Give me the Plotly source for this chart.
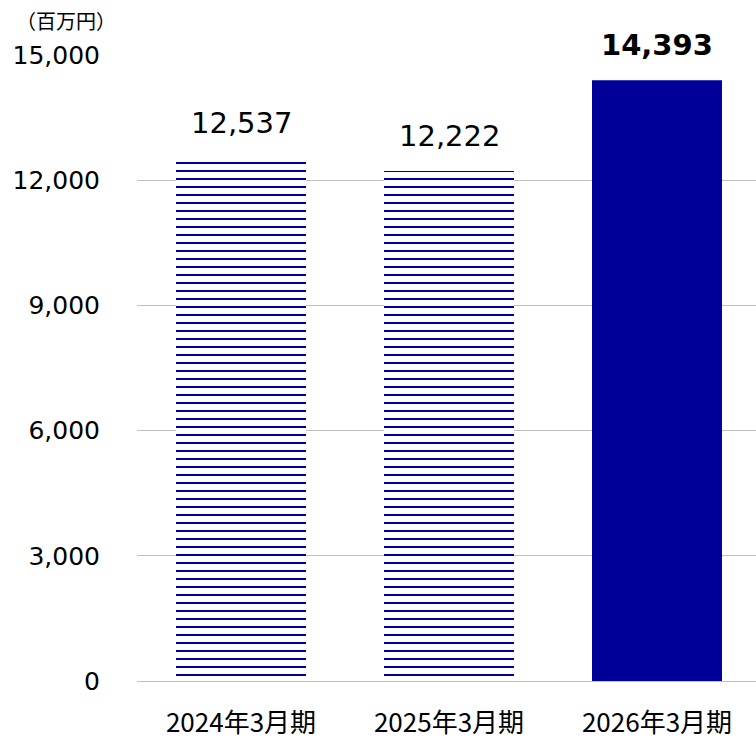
import plotly.graph_objects as go

categories = ["2024年3月期", "2025年3月期", "2026年3月期"]
values = [12537, 12222, 14393]
value_labels = ["12,537", "12,222", "<b>14,393</b>"]
tick_vals = [0, 3000, 6000, 9000, 12000, 15000]
tick_text = ["0", "3,000", "6,000", "9,000", "12,000", "15,000"]

navy = "#000099"

fig = go.Figure()
fig.add_trace(go.Bar(
    x=categories,
    y=values,
    width=0.625,
    marker=dict(
        color=navy,
        line=dict(width=0),
        pattern=dict(
            shape=["-", "-", ""],
            fgcolor=navy,
            bgcolor="white",
            fgopacity=1,
            size=8,
            solidity=0.25,
            fillmode="replace",
        ),
    ),
    hoverinfo="skip",
))

for cat, val, lab in zip(categories, values, value_labels):
    fig.add_annotation(
        x=cat, y=val, text=lab, showarrow=False,
        yanchor="bottom", yshift=16,
        font=dict(family="DejaVu Sans", size=29, color="black"),
    )

# unit caption above the value axis
fig.add_annotation(
    xref="paper", yref="paper", x=-0.1147, y=1.0, yshift=35,
    text="（百万円）", showarrow=False, xanchor="center", yanchor="middle",
    font=dict(family="Noto Sans CJK JP", size=20, color="black"),
)

fig.update_layout(
    width=756, height=741,
    margin=dict(l=137, r=0, t=55, b=60, autoexpand=False),
    paper_bgcolor="white", plot_bgcolor="white",
    showlegend=False,
)
fig.update_yaxes(
    range=[0, 15000], automargin=False,
    tickvals=tick_vals, ticktext=tick_text,
    showgrid=True, gridcolor="#c0c0c0", gridwidth=1,
    zeroline=True, zerolinecolor="#c0c0c0", zerolinewidth=1,
    ticks="", ticklabelstandoff=36,
    tickfont=dict(family="DejaVu Sans", size=25, color="black"),
)
fig.update_xaxes(
    range=[-0.5, 2.476], automargin=False,
    showgrid=False, showline=False, ticks="",
    ticklabelstandoff=24,
    tickfont=dict(family="Noto Sans CJK JP", size=26, color="black"),
)

fig.write_html("out.html")
